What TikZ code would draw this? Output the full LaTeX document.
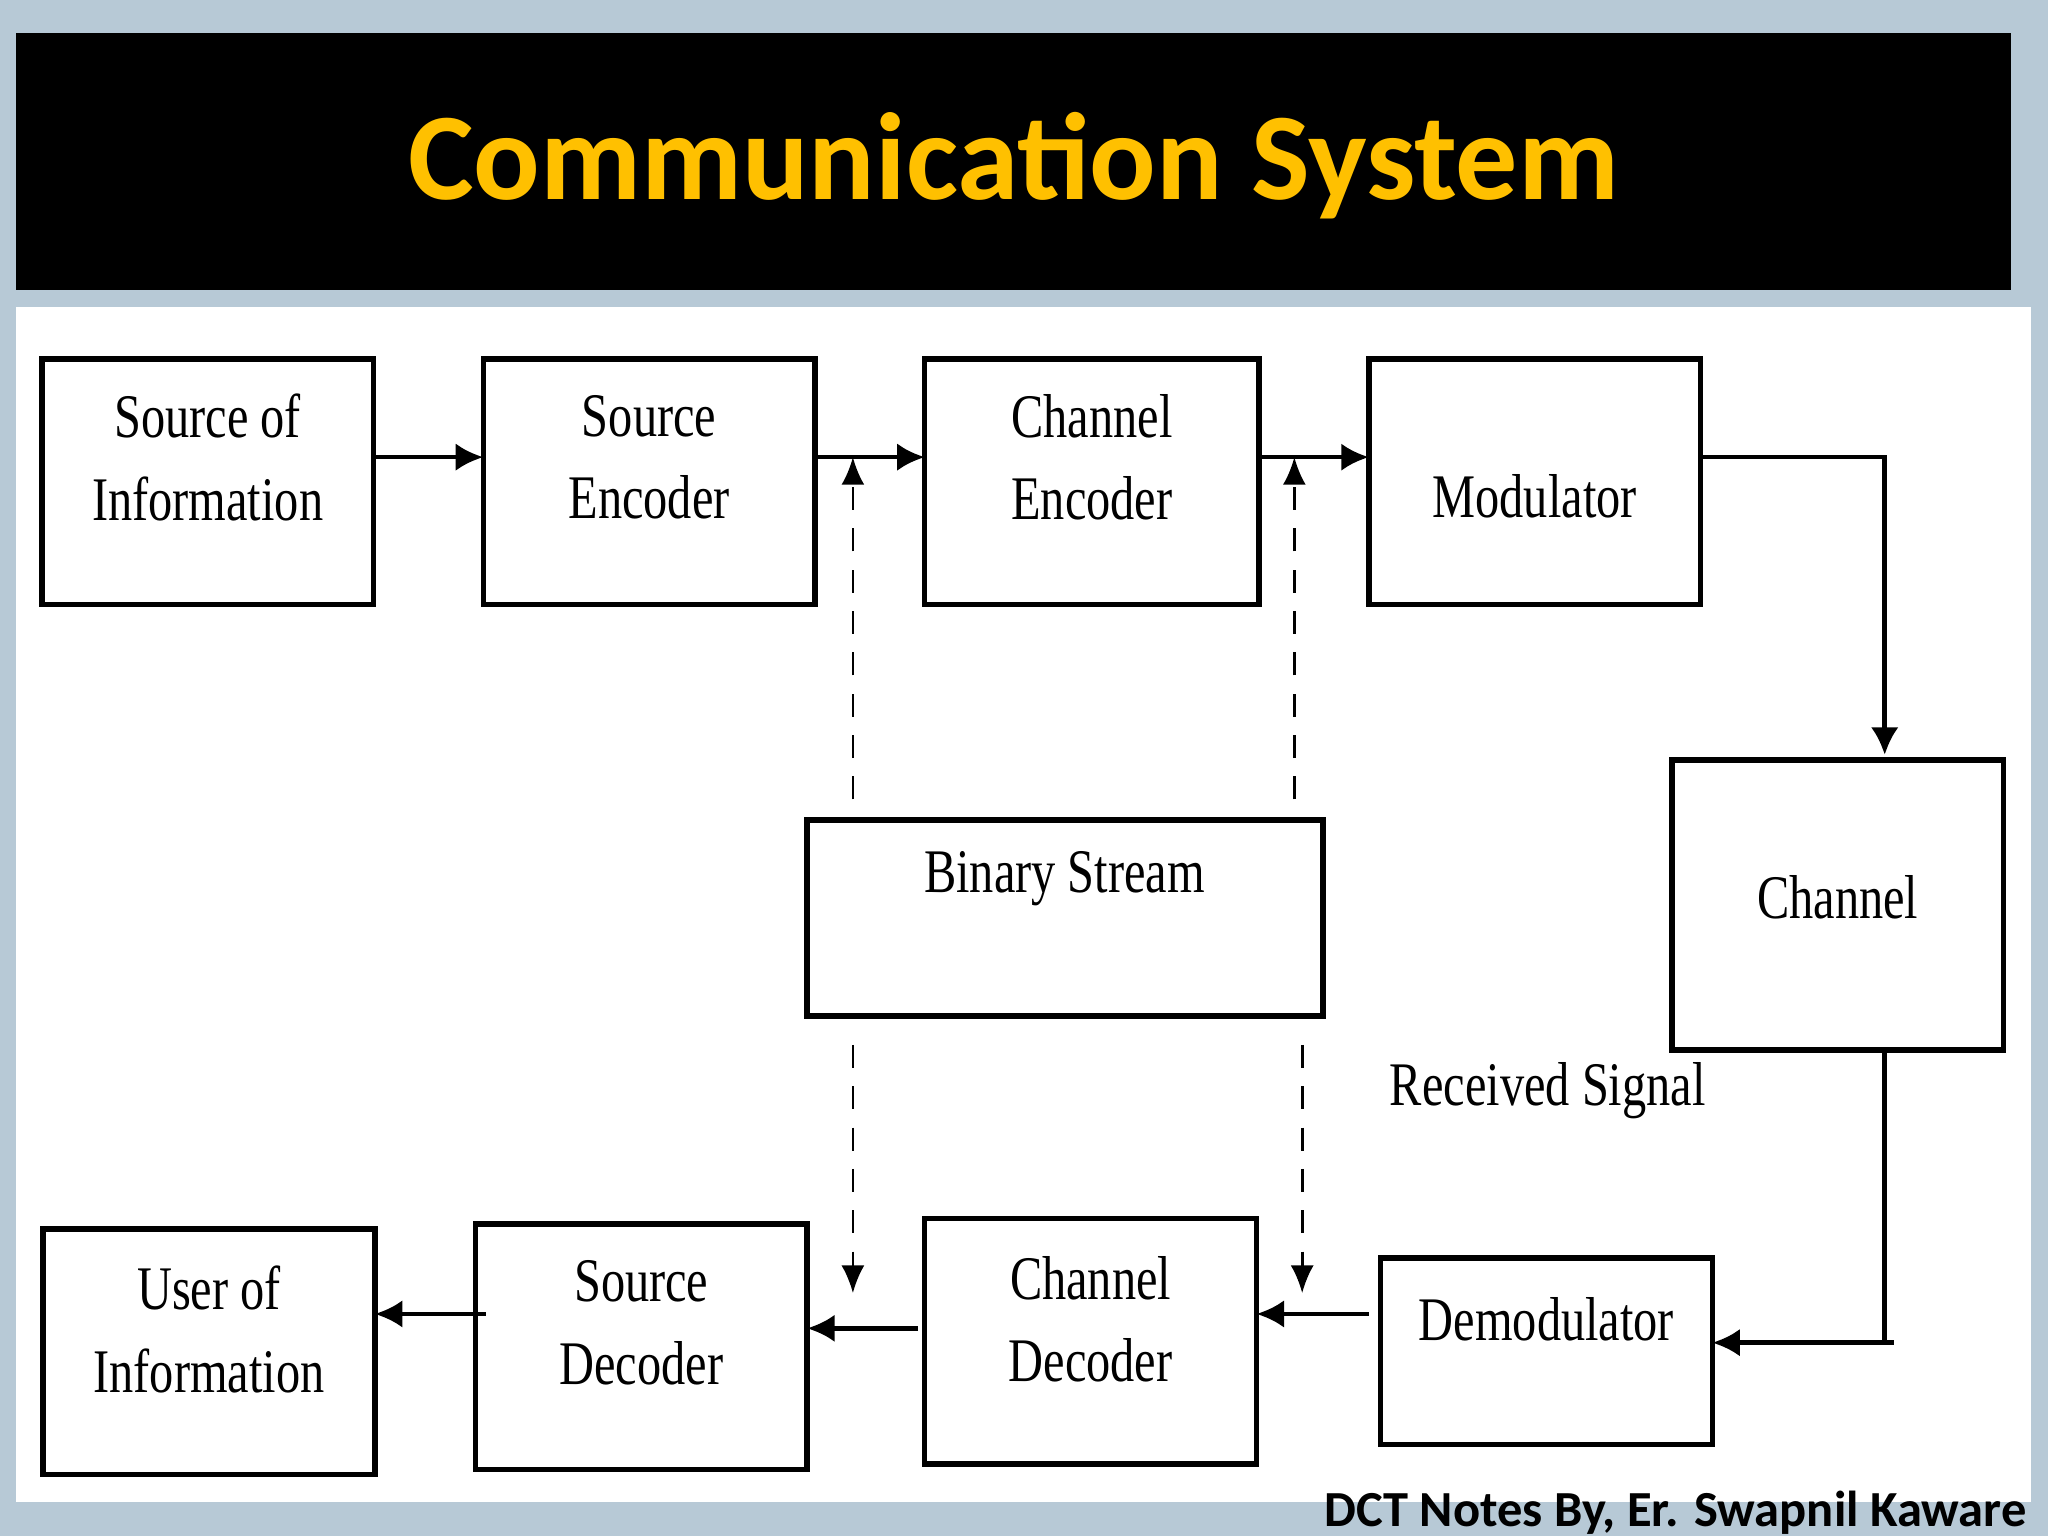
\documentclass[tikz,border=0pt]{standalone}
\usepackage{fontspec}
\setmainfont{Liberation Serif}
\newfontfamily\calib{Carlito}
\definecolor{ttl}{HTML}{FFC000}
\definecolor{bg}{HTML}{B7C9D6}
\usetikzlibrary{arrows.meta}
\begin{document}
\begin{tikzpicture}[x=0.01cm,y=-0.01cm,
 box/.style={draw,line width=1.2pt,fill=white},
 lbl/.style={font=\fontsize{13.5}{18}\selectfont,align=center,xscale=0.78},
 arr/.style={line width=1pt,-{Latex[length=6pt,width=6pt]}},
 dsh/.style={line width=0.6pt,dash pattern=on 5pt off 4pt,-{Latex[length=6pt,width=5pt]}}]
\useasboundingbox (0,0) rectangle (1568,1176);
\fill[bg] (0,0) rectangle (1568,1176);
\fill[black] (12,25) rectangle (1540,222);
\node[text=ttl,font=\calib\bfseries\fontsize{27}{32}\selectfont] (title) at (776,127) {Communication System};
\fill[white] (12,235) rectangle (1555,1150);
\draw[box] (32,275) rectangle (286,463);
\draw[box] (370,275) rectangle (624,463);
\draw[box] (708,275) rectangle (964,463);
\draw[box] (1048,275) rectangle (1302,463);
\draw[box] (1280,582) rectangle (1534,804);
\draw[box] (618,628) rectangle (1013,778);
\draw[box] (33,941) rectangle (287,1129);
\draw[box] (364,937) rectangle (618,1125);
\draw[box] (708,933) rectangle (962,1121);
\draw[box] (1057,963) rectangle (1311,1106);
\node[lbl] (a) at (159,350) {Source of\\Information};
\node[lbl] (b) at (497,350) {Source\\Encoder};
\node[lbl] (c) at (836,350) {Channel\\Encoder};
\node[lbl] (d) at (1175,380) {Modulator};
\node[lbl] (e) at (1407,687) {Channel};
\node[lbl] (f) at (815,673) {Binary Stream};
\node[lbl] (g) at (160,1018) {User of\\Information};
\node[lbl] (h) at (491,1013) {Source\\Decoder};
\node[lbl] (i) at (835,1010) {Channel\\Decoder};
\node[lbl] (j) at (1184,1010) {Demodulator};
\node[lbl] (k) at (1185,835) {Received Signal};
\draw[arr] (286,350) -- (370,350);
\draw[arr] (624,350) -- (708,350);
\draw[arr] (964,350) -- (1048,350);
\draw[arr] (1302,350) -- (1443,350) -- (1443,578);
\draw[line width=1pt] (1443,804) -- (1443,1028);
\draw[line width=1pt] (1450,1028) -- (1340,1028);
\draw[arr] (1443,1028) -- (1311,1028);
\draw[arr] (1048,1006) -- (962,1006);
\draw[arr] (703,1017) -- (618,1017);
\draw[arr] (372,1006) -- (287,1006);
\draw[dsh] (653,612) -- (653,350);
\draw[dsh] (991,612) -- (991,350);
\draw[dsh] (653,800) -- (653,990);
\draw[dsh] (997,800) -- (997,990);
\node[font=\calib\bfseries\fontsize{11}{13}\selectfont,anchor=east] (foot) at (1564,1158) {DCT Notes By, Er. Swapnil Kaware};
\end{tikzpicture}
\end{document}
